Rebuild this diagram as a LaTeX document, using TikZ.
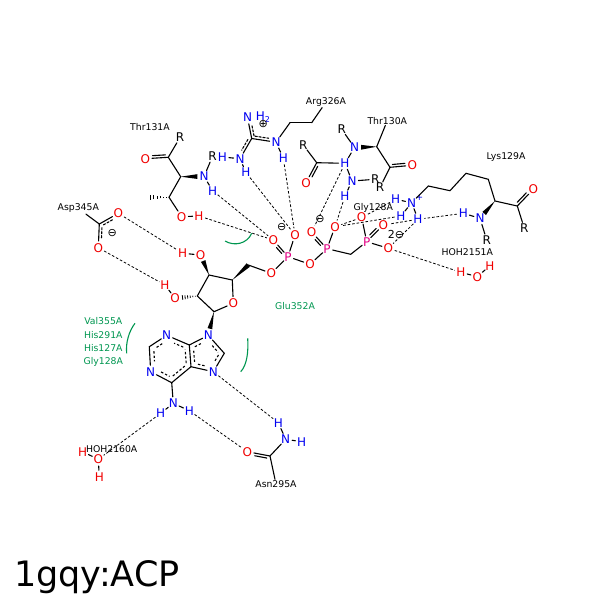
\documentclass[tikz,border=0pt]{standalone}
\usepackage{fontspec}
\setmainfont{DejaVu Sans}
\usetikzlibrary{calc}
\definecolor{ored}{RGB}{240,0,0}
\definecolor{nblue}{RGB}{0,0,240}
\definecolor{pmag}{RGB}{225,0,130}
\definecolor{grn}{RGB}{0,150,80}
\newcommand\pline[6][]{\draw[bond,#1] ($(#2)!#4!(#3)!#6!90:(#3)$) -- ($(#2)!#5!(#3)!#6!-90:(#2)$);}
\newcommand\wedgeb[3]{\fill (#1) -- ($(#1)!#3!(#2)!2.4pt!90:(#2)$) -- ($(#1)!#3!(#2)!2.4pt!-90:(#2)$) -- cycle;}
\newcommand\hashb[3]{\foreach \t in {0.12,0.28,0.44,0.6,0.76,0.92}{\draw[line width=0.8pt] ($(#1)!\t*#3!(#2)!\t*2.6pt!90:(#2)$) -- ($(#1)!\t*#3!(#2)!\t*2.6pt!-90:(#2)$);}}
\newcommand\arom[5]{\draw[bond,adash] ($(#2-#1)!#4!(#3-#1)$) -- ($(#2-#1)!#5!(#3-#1)$);}
\begin{document}
\begin{tikzpicture}[x=1pt,y=-1pt,
 bond/.style={line width=1.1pt, line cap=round},
 hb/.style={line width=0.8pt, dash pattern=on 2.6pt off 1.9pt},
 ddash/.style={dash pattern=on 2.2pt off 1.8pt},
 adash/.style={line cap=butt, dash pattern=on 2.4pt off 2pt},
 atm/.style={circle, inner sep=0pt, font=\fontsize{12}{12}\selectfont},
 oa/.style={atm, text=ored}, na/.style={atm, text=nblue}, pa/.style={atm, text=pmag},
 res/.style={inner sep=1pt, font=\fontsize{9.3}{10}\selectfont},
 gres/.style={res, text=grn},
 garc/.style={grn, line width=1.1pt},
 chg/.style={inner sep=0pt, font=\fontsize{11}{11}\selectfont}]
\useasboundingbox (0,0) rectangle (600,600);

% ---------- Thr131A
\node[res] (thr131lab) at (150,127) {Thr131A};
\node[atm] (r131) at (180,137.5) {R};
\coordinate (c131) at (168.3,157.3);
\node[oa] (o131) at (145.3,158.7) {O};
\coordinate (ca131) at (180.7,176.7);
\node[na] (n131) at (204,176.5) {N};
\node[atm] (rn131) at (212.5,156.5) {R};
\node[na] (hn131) at (212.7,190.7) {H};
\coordinate (cb131) at (169,197.3);
\coordinate (me131) at (148.3,197.3);
\node[oa] (og131) at (181.7,216.7) {O};
\node[oa] (hg131) at (199,216) {H};
\draw[bond] (r131) -- (c131);
\draw[bond] (c131) -- (o131);
\pline{c131}{o131}{0.12}{0.68}{-2.6pt}
\draw[bond] (c131) -- (ca131);
\wedgeb{ca131}{n131}{0.72}
\draw[bond] (n131) -- (rn131);
\draw[bond] (n131) -- (hn131);
\draw[bond] (ca131) -- (cb131);
\hashb{cb131}{me131}{0.97}
\draw[bond] (cb131) -- (og131);
\draw[bond] (og131) -- (hg131);

% ---------- Arg326A
\node[res] (arglab) at (326,102) {Arg326A};
\node[na] (nh2) at (247.5,117.5) {N};
\node[na, anchor=west, inner sep=0pt] (nh2h) at (nh2.east) {H\textsubscript{2}};
\node[chg] (plus326) at (263.3,124.3) {⊕};
\coordinate (cz) at (251.7,138.5);
\node[na] (ne) at (276,142.2) {N};
\node[na] (hne) at (283.3,158) {H};
\node[na] (nh1) at (240,158.7) {N};
\node[na] (hnh1a) at (222.5,157) {H};
\node[na] (hnh1b) at (246,172.5) {H};
\coordinate (cd326) at (290,122.7);
\coordinate (cg326) at (311.7,122.7);
\draw[bond] (cz) -- (nh2);
\pline[ddash]{cz}{nh2}{0.1}{0.62}{-2.8pt}
\draw[bond] (cz) -- (ne);
\pline[ddash]{cz}{ne}{0.12}{0.68}{2.8pt}
\draw[bond] (cz) -- (nh1);
\pline[ddash]{cz}{nh1}{0.12}{0.65}{-2.8pt}
\draw[bond] (ne) -- (hne);
\draw[bond] (nh1) -- (hnh1a);
\draw[bond] (nh1) -- (hnh1b);
\draw[bond] (ne) -- (cd326);
\draw[bond] (cd326) -- (cg326);
\draw[bond] (cg326) -- (arglab);

% ---------- Thr130A
\node[res] (thr130lab) at (387.3,120.7) {Thr130A};
\coordinate (ca130) at (376.7,146.7);
\node[na] (n130) at (354.5,147.5) {N};
\node[atm] (rn130) at (341.7,129.3) {R};
\coordinate (c130) at (390,167.3);
\node[oa] (o130) at (412.3,165.3) {O};
\node[atm] (r130) at (380,187.5) {R};
\draw[bond] (ca130) -- (thr130lab);
\wedgeb{ca130}{n130}{0.7}
\draw[bond] (n130) -- (rn130);
\draw[bond] (ca130) -- (c130);
\draw[bond] (c130) -- (o130);
\pline{c130}{o130}{0.12}{0.68}{2.6pt}
\draw[bond] (c130) -- (r130);

% ---------- neighbouring backbone
\node[atm] (rx) at (303.3,145) {R};
\coordinate (cx) at (316.7,162.7);
\node[oa] (ox) at (306,182.7) {O};
\node[na] (hx1) at (345,163.3) {H};
\node[na] (nx) at (352,181) {N};
\node[atm] (rnx) at (375.3,179.3) {R};
\node[na] (hx2) at (345,196) {H};
\draw[bond] (rx) -- (cx);
\draw[bond] (cx) -- (ox);
\pline{cx}{ox}{0.12}{0.65}{2.6pt}
\draw[bond] (cx) -- (hx1);
\draw[bond] (n130) -- (hx1);
\draw[bond] (hx1) -- (nx);
\draw[bond] (nx) -- (rnx);
\draw[bond] (nx) -- (hx2);
\node[res] (gly128lab) at (373.3,207.5) {Gly128A};

% ---------- Lys129A
\node[res] (lyslab) at (506,157.3) {Lys129A};
\node[na] (nz) at (411.7,202.7) {N};
\node[inner sep=0pt, text=nblue, font=\fontsize{9}{9}\selectfont] (nzplus) at (419.5,197.5) {+};
\node[na] (hz1) at (395.7,199.3) {H};
\node[na] (hz2) at (401,216) {H};
\node[na] (hz3) at (418,219.3) {H};
\coordinate (ce129) at (428.3,186);
\coordinate (cd129) at (450,190.7);
\coordinate (cg129) at (466,173.3);
\coordinate (cb129) at (488.3,179.3);
\coordinate (ca129) at (495,201);
\coordinate (c129) at (517.3,206);
\node[oa] (o129) at (533.3,189.3) {O};
\node[atm] (r129) at (524.3,228.3) {R};
\node[na] (n129) at (480,218.3) {N};
\node[na] (hn129) at (463.3,213.3) {H};
\node[atm] (rn129) at (486.7,240) {R};
\draw[bond] (nz) -- (hz1);
\draw[bond] (nz) -- (hz2);
\draw[bond] (nz) -- (hz3);
\draw[bond] (nz) -- (ce129);
\draw[bond] (ce129) -- (cd129) -- (cg129) -- (cb129) -- (ca129) -- (c129);
\draw[bond] (c129) -- (o129);
\pline{c129}{o129}{0.12}{0.68}{2.6pt}
\draw[bond] (c129) -- (r129);
\wedgeb{ca129}{n129}{0.72}
\draw[bond] (n129) -- (hn129);
\draw[bond] (n129) -- (rn129);

% ---------- HOH2151A
\node[res] (w1lab) at (467.3,252) {HOH2151A};
\node[oa] (hw1) at (461,272.3) {H};
\node[oa] (ow1) at (477.3,276.7) {O};
\node[oa] (hw1b) at (490,265.7) {H};
\draw[bond] (hw1) -- (ow1);
\draw[bond] (ow1) -- (hw1b);

% ---------- Asp345A
\node[res] (asplab) at (78.3,208.5) {Asp345A};
\coordinate (cg345) at (99.3,224);
\node[oa] (od1) at (118.3,213.3) {O};
\node[oa] (od2) at (98.3,247.7) {O};
\node[chg] (m345) at (112.3,233.3) {⊖};
\draw[bond] (asplab) -- (cg345);
\draw[bond] (cg345) -- (od1);
\pline[ddash]{cg345}{od1}{0.15}{0.62}{-2.8pt}
\draw[bond] (cg345) -- (od2);
\pline[ddash]{cg345}{od2}{0.15}{0.62}{2.8pt}

% ---------- phosphates
\node[pa] (p1) at (288,256.7) {P};
\node[oa] (o1a) at (273.3,240) {O};
\node[oa] (o1b) at (295,235) {O};
\node[chg] (m1) at (281.7,227.5) {⊖};
\node[oa] (o5) at (271.3,273.3) {O};
\node[oa] (o12) at (310,264.3) {O};
\node[pa] (p2) at (327,248.7) {P};
\node[oa] (o2a) at (311.7,232) {O};
\node[oa] (o2b) at (335,226.8) {O};
\node[chg] (m2) at (320,219.5) {⊖};
\coordinate (c3) at (350.7,254.3);
\node[pa] (p3) at (366.7,241.7) {P};
\node[oa] (o3a) at (361.7,217.5) {O};
\node[oa] (o3b) at (383.3,225) {O};
\node[oa] (o3c) at (388.3,248.3) {O};
\node[chg] (m3) at (396,234) {2⊖};
\draw[bond] (p1) -- (o1a);
\pline{p1}{o1a}{0.3}{0.65}{2.6pt}
\draw[bond] (p1) -- (o1b);
\draw[bond] (p1) -- (o5);
\draw[bond] (p1) -- (o12);
\draw[bond] (o12) -- (p2);
\draw[bond] (p2) -- (o2a);
\pline{p2}{o2a}{0.3}{0.65}{2.6pt}
\draw[bond] (p2) -- (o2b);
\draw[bond] (p2) -- (c3);
\draw[bond] (c3) -- (p3);
\draw[bond] (p3) -- (o3a);
\draw[bond] (p3) -- (o3b);
\pline{p3}{o3b}{0.3}{0.68}{2.6pt}
\draw[bond] (p3) -- (o3c);

% ---------- ribose
\coordinate (c5p) at (248.3,265);
\coordinate (c4p) at (232.3,280);
\node[oa] (o4p) at (233.3,303.3) {O};
\coordinate (c1p) at (214,311.7);
\coordinate (c2p) at (197.3,296);
\coordinate (c3p) at (209,275);
\node[oa] (o3p) at (200.7,255) {O};
\node[oa] (ho3p) at (182.7,253.3) {H};
\node[oa] (o2p) at (175,298.3) {O};
\node[oa] (ho2p) at (165,285) {H};
\draw[bond] (o5) -- (c5p);
\wedgeb{c4p}{c5p}{0.999}
\draw[bond] (c4p) -- (o4p);
\draw[bond] (o4p) -- (c1p);
\draw[bond] (c1p) -- (c2p);
\draw[bond] (c2p) -- (c3p);
\draw[bond] (c3p) -- (c4p);
\wedgeb{c3p}{o3p}{0.7}
\draw[bond] (o3p) -- (ho3p);
\hashb{c2p}{o2p}{0.72}
\draw[bond] (o2p) -- (ho2p);

% ---------- adenine
\node[na] (n9) at (208.3,335.3) {N};
\coordinate (c8) at (224.3,353.3);
\node[na] (n7) at (213.3,371.7) {N};
\coordinate (c5) at (191,366.7);
\coordinate (c4) at (189.3,345);
\node[na] (n3) at (166.7,335.3) {N};
\coordinate (c2) at (149.3,346.7);
\node[na] (n1) at (150.7,371.7) {N};
\coordinate (c6) at (171.7,382.7);
\node[na] (n6) at (173.3,403.3) {N};
\node[na] (h61) at (160.7,413.3) {H};
\node[na] (h62) at (189.3,410.7) {H};
\wedgeb{c1p}{n9}{0.72}
\draw[bond] (n3) -- (c2);
\draw[bond] (c2) -- (n1);
\draw[bond] (n1) -- (c6);
\draw[bond] (c6) -- (c5);
\draw[bond] (c5) -- (c4);
\draw[bond] (c4) -- (n3);
\draw[bond] (c4) -- (n9);
\draw[bond] (n9) -- (c8);
\draw[bond] (c8) -- (n7);
\draw[bond] (n7) -- (c5);
\draw[bond] (c6) -- (n6);
\draw[bond] (n6) -- (h61);
\draw[bond] (n6) -- (h62);
\coordinate (ctrA) at (169.8,358.0);
\coordinate (ctrB) at (205.2,354.4);
\foreach \v in {n3,c2,n1,c6,c5,c4}{\coordinate (\v-a) at ($(ctrA)!0.78!(\v)$);}
\foreach \v in {c4,n9,c8,n7,c5}{\coordinate (\v-b) at ($(ctrB)!0.74!(\v)$);}
\arom{a}{n3}{c2}{0.38}{0.9}
\arom{a}{c2}{n1}{0.1}{0.62}
\arom{a}{n1}{c6}{0.38}{0.9}
\arom{a}{c6}{c5}{0.1}{0.9}
\arom{a}{c5}{c4}{0.1}{0.9}
\arom{a}{c4}{n3}{0.1}{0.62}
\arom{b}{c4}{n9}{0.1}{0.6}
\arom{b}{n9}{c8}{0.4}{0.9}
\arom{b}{c8}{n7}{0.1}{0.6}
\arom{b}{n7}{c5}{0.4}{0.9}
\arom{b}{c5}{c4}{0.1}{0.9}

% ---------- Asn295A
\node[na] (hd21) at (278.3,422.7) {H};
\node[na] (nd2) at (285.7,439.3) {N};
\node[na] (hd22) at (301.7,441.7) {H};
\coordinate (cg295) at (270,456);
\node[oa] (od295) at (247.3,451.7) {O};
\node[res] (asnlab) at (276,484) {Asn295A};
\draw[bond] (hd21) -- (nd2);
\draw[bond] (nd2) -- (hd22);
\draw[bond] (nd2) -- (cg295);
\draw[bond] (cg295) -- (od295);
\pline{cg295}{od295}{0.12}{0.65}{2.6pt}
\draw[bond] (cg295) -- (asnlab);

% ---------- HOH2160A
\node[oa] (hw2a) at (82.7,451.7) {H};
\node[oa] (ow2) at (98.3,459.3) {O};
\node[oa] (hw2b) at (99.3,476.7) {H};
\draw[bond] (hw2a) -- (ow2);
\draw[bond] (ow2) -- (hw2b);

% ---------- hydrogen bonds
\draw[hb] (od1) -- (ho3p);
\draw[hb] (od2) -- (ho2p);
\draw[hb] (hg131) -- (o1a);
\draw[hb] (hn131) -- (o1a);
\draw[hb] (hnh1b) -- (o1b);
\draw[hb] (hne) -- (o1b);
\draw[hb] (hx1) -- (o2a);
\draw[hb] (hx2) -- (o2b);
\draw[hb] (hz1) -- (o3a);
\draw[hb] (o3a) -- (o2b);
\draw[hb] (hz2) -- (o2b);
\draw[hb] (hz3) -- (o3c);
\draw[hb] (hn129) -- (hz3);
\draw[hb] (hz3) -- (o3b);
\draw[hb] (o3c) -- (hw1);
\draw[hb] (n7) -- (hd21);
\draw[hb] (h62) -- (od295);
\draw[hb] (h61) -- (ow2);
\node[res] (w2lab) at (111.7,449.3) {HOH2160A};

% ---------- hydrophobic contacts
\node[gres] (glu352) at (295,306) {Glu352A};
\node[gres] (val355) at (103.3,320.7) {Val355A};
\node[gres] (his291) at (103.3,334.7) {His291A};
\node[gres] (his127) at (103.3,348) {His127A};
\node[gres] (gly128g) at (103.3,362) {Gly128A};
\draw[garc] (225,241) .. controls (234,246.5) and (247,244) .. (251.7,233.3);
\draw[garc] (247.7,338.3) .. controls (248.5,352) and (247,365) .. (240.7,371.7);
\draw[garc] (135,323.3) .. controls (129,331) and (125.5,343) .. (126.7,353.3);

% ---------- title
\node[anchor=base west, inner sep=0pt, font=\fontsize{35}{35}\selectfont] (title) at (14,586) {1gqy:ACP};
\end{tikzpicture}
\end{document}
